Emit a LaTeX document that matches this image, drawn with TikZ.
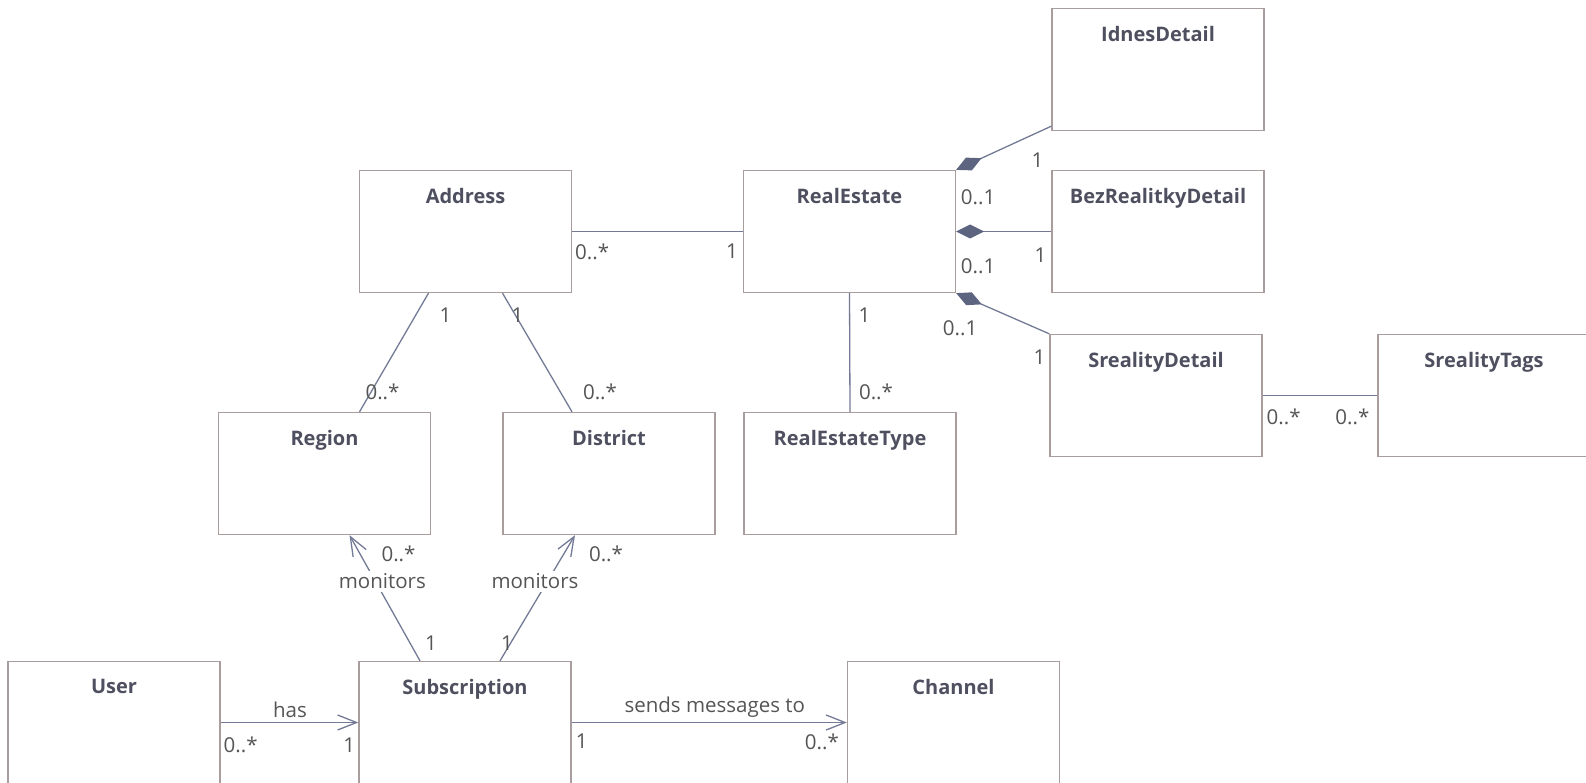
\documentclass[tikz,border=0pt]{standalone}
\usepackage{fontspec}
\setmainfont{Open Sans}
\usetikzlibrary{arrows.meta}
\definecolor{boxline}{HTML}{A89C9C}
\definecolor{assoc}{HTML}{737A95}
\definecolor{labeltext}{HTML}{555555}
\definecolor{nametext}{HTML}{4E5060}
\definecolor{diamondfill}{HTML}{5D6480}

\begin{document}
\begin{tikzpicture}[x=1pt,y=-1pt,font=\fontsize{20.5}{24}\selectfont]
        \tikzset{class/.style={draw=boxline,line width=1.3pt,minimum width=212pt,minimum height=122pt,inner sep=0pt,label={[classname]north:#1}},
            classname/.style={anchor=north,yshift=-18pt,inner sep=0pt,font=\fontsize{20}{24}\selectfont\bfseries,text=nametext},
            link/.style={draw=assoc,line width=1.3pt},
            mult/.style={text=labeltext,inner sep=0pt},
            role/.style={text=labeltext,anchor=base,fill=white,inner sep=3pt},
            owns/.style={link,{Diamond[length=28pt,width=14pt,fill=diamondfill,color=diamondfill]}-},
            nav/.style={link,-{Straight Barb[length=19pt,width=15pt]}}}
        \useasboundingbox (0,0) rectangle (1586,783);
        % classes
        \node[class=IdnesDetail](IdnesDetail) at (1158,69.5) {};
        \node[class=Address](Address) at (465.5,231.5) {};
        \node[class=RealEstate](RealEstate) at (849.5,231.5) {};
        \node[class=BezRealitkyDetail](BezRealitkyDetail) at (1158,231.5) {};
        \node[class=SrealityDetail](SrealityDetail) at (1156,395.5) {};
        \node[class=SrealityTags](SrealityTags) at (1484,395.5) {};
        \node[class=Region](Region) at (324.5,473.5) {};
        \node[class=District](District) at (609,473.5) {};
        \node[class=RealEstateType](RealEstateType) at (850,473.5) {};
        \node[class=User](User) at (114,722.5) {};
        \node[class=Subscription](Subscription) at (465,722.5) {};
        \node[class=Channel](Channel) at (953.5,722.5) {};
        % associations
        \draw[link] (Address.east) -- (RealEstate.west)
            node[mult,at start,shift={(20,20)}] {0..*}
            node[mult,at end,shift={(-11,20)}] {1};
        \draw[link] ([xshift=-37pt]Address.south) -- ([xshift=35pt]Region.north)
            node[mult,at start,shift={(17,22)}] {1}
            node[mult,at end,shift={(23,-20)}] {0..*};
        \draw[link] ([xshift=37pt]Address.south) -- ([xshift=-37pt]District.north)
            node[mult,at start,shift={(15,22)}] {1}
            node[mult,at end,shift={(28,-20)}] {0..*};
        \draw[link] (RealEstate.south) -- (RealEstateType.north)
            node[mult,at start,shift={(15,22)}] {1}
            node[mult,at end,shift={(26,-20)}] {0..*};
        \draw[owns] (RealEstate.north east) -- ([yshift=5pt]IdnesDetail.south west)
            node[mult,at start,shift={(22,27)}] {0..1}
            node[mult,at end,shift={(-14,34)}] {1};
        \draw[owns] (RealEstate.east) -- (BezRealitkyDetail.west)
            node[mult,at start,shift={(22,34.5)}] {0..1}
            node[mult,at end,shift={(-11,23.5)}] {1};
        \draw[owns] (RealEstate.south east) -- (SrealityDetail.north west)
            node[mult,at start,shift={(4,35)}] {0..1}
            node[mult,at end,shift={(-10,23)}] {1};
        \draw[link] (SrealityDetail.east) -- (SrealityTags.west)
            node[mult,at start,shift={(21,21.5)}] {0..*}
            node[mult,at end,shift={(-25,21.5)}] {0..*};
        % subscriptions
        \draw[nav] ([xshift=-45pt]Subscription.north) -- ([xshift=25pt]Region.south)
            node[role,pos=0.62,shift={(6,6)}] {monitors}
            node[mult,at start,shift={(11,-18)}] {1}
            node[mult,at end,shift={(49,19)}] {0..*};
        \draw[nav] ([xshift=35pt]Subscription.north) -- ([xshift=-34pt]District.south)
            node[role,pos=0.62,shift={(-11.5,6)}] {monitors}
            node[mult,at start,shift={(7,-18)}] {1}
            node[mult,at end,shift={(31,19)}] {0..*};
        \draw[nav] (User.east) -- (Subscription.west)
            node[mult,anchor=base,midway,shift={(0.5,-5.5)}] {has}
            node[mult,at start,shift={(20,22.5)}] {0..*}
            node[mult,at end,shift={(-9,22.5)}] {1};
        \draw[nav] (Subscription.east) -- (Channel.west)
            node[mult,anchor=base,midway,shift={(5.5,-10)}] {sends messages to}
            node[mult,at start,shift={(10,19)}] {1}
            node[mult,at end,shift={(-25,19)}] {0..*};
\end{tikzpicture}
\end{document}
